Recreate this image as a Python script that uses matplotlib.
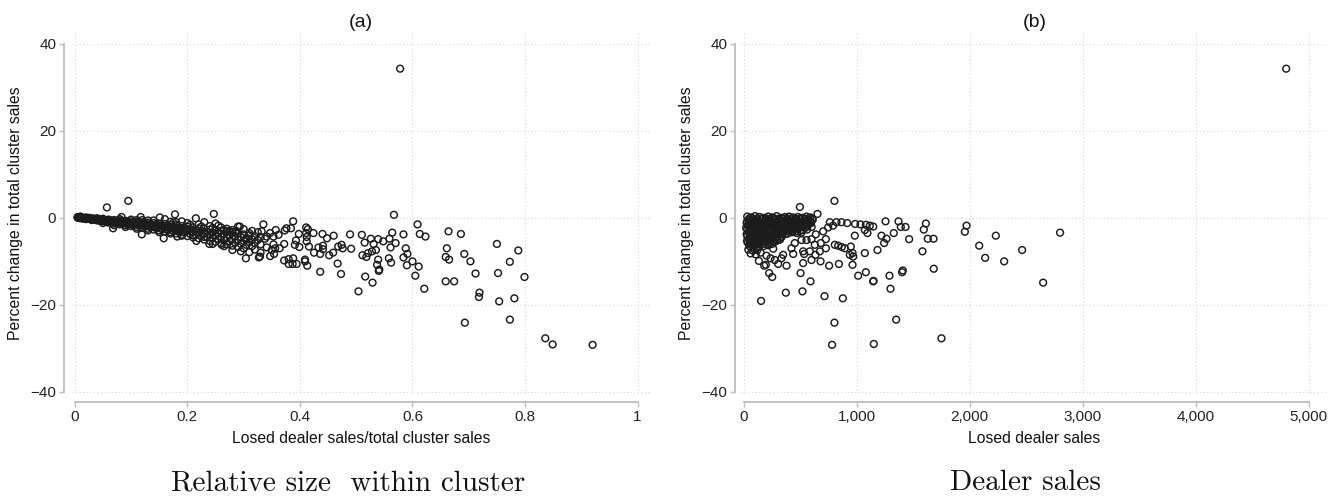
import matplotlib
matplotlib.use("Agg")
import matplotlib.pyplot as plt

# ---------------- data: panel (a) ----------------
a_band = [
    (0.005, 0.2), (0.005, 0.0), (0.010, 0.1), (0.010, -0.1), (0.010, 0.3), (0.015, 0.0), (0.015, -0.2),
    (0.020, -0.1), (0.020, 0.1), (0.020, -0.3), (0.025, -0.2), (0.025, 0.0), (0.030, -0.3), (0.030, -0.1),
    (0.030, -0.5), (0.035, -0.2), (0.035, -0.4), (0.040, -0.3), (0.040, -0.6), (0.040, -0.1), (0.045, -0.4),
    (0.045, -0.7), (0.050, -0.5), (0.050, -0.2), (0.050, -0.8), (0.055, -0.6), (0.055, -0.9), (0.060, -0.4),
    (0.060, -0.8), (0.060, -1.1), (0.065, -0.6), (0.065, -1.0), (0.070, -0.5), (0.070, -0.9), (0.070, -1.3),
    (0.075, -0.7), (0.075, -1.2), (0.080, -0.6), (0.080, -1.0), (0.080, -1.5), (0.085, -0.8), (0.085, -1.3),
    (0.090, -0.7), (0.090, -1.1), (0.090, -1.7), (0.095, -0.9), (0.095, -1.5), (0.100, -0.8), (0.100, -1.3),
    (0.100, -1.9), (0.100, -0.4), (0.105, -1.0), (0.105, -1.6), (0.110, -0.9), (0.110, -1.4), (0.110, -2.1),
    (0.115, -1.1), (0.115, -1.8), (0.120, -1.0), (0.120, -1.6), (0.120, -2.3), (0.120, -0.5), (0.125, -1.2),
    (0.125, -2.0), (0.130, -1.1), (0.130, -1.7), (0.130, -2.5), (0.135, -1.4), (0.135, -2.2), (0.140, -1.2),
    (0.140, -1.9), (0.140, -2.7), (0.140, -0.6), (0.145, -1.5), (0.145, -2.4), (0.150, -1.3), (0.150, -2.0),
    (0.150, -2.9), (0.155, -1.7), (0.155, -2.6), (0.160, -1.4), (0.160, -2.2), (0.160, -3.1), (0.160, -0.3),
    (0.165, -1.8), (0.165, -2.8), (0.170, -1.6), (0.170, -2.4), (0.170, -3.3), (0.175, -2.0), (0.175, -3.0),
    (0.175, -1.1), (0.180, -1.7), (0.180, -2.6), (0.180, -3.6), (0.185, -2.2), (0.185, -3.2), (0.190, -1.9),
    (0.190, -2.8), (0.190, -3.9), (0.190, -0.8), (0.195, -2.4), (0.195, -3.4), (0.200, -2.0), (0.200, -3.0),
    (0.200, -4.2), (0.200, -1.2), (0.205, -2.6), (0.205, -3.7), (0.210, -2.2), (0.210, -3.2), (0.210, -4.5),
    (0.215, -2.8), (0.215, -3.9), (0.215, -0.1), (0.220, -2.4), (0.220, -3.4), (0.220, -4.7), (0.220, -1.5),
    (0.225, -3.0), (0.225, -4.1), (0.230, -2.5), (0.230, -3.6), (0.230, -5.0), (0.230, -1.0), (0.235, -3.2),
    (0.235, -4.4), (0.240, -2.7), (0.240, -3.8), (0.240, -5.3), (0.240, -1.9), (0.245, -3.4), (0.245, -4.6),
    (0.245, -6.0), (0.250, -2.9), (0.250, -4.0), (0.250, -5.5), (0.250, -1.3), (0.255, -3.6), (0.255, -4.9),
    (0.260, -3.0), (0.260, -4.3), (0.260, -5.8), (0.260, -2.2), (0.265, -3.8), (0.265, -5.1), (0.265, -6.5),
    (0.270, -3.2), (0.270, -4.5), (0.270, -6.1), (0.270, -2.5), (0.275, -4.0), (0.275, -5.4), (0.280, -3.4),
    (0.280, -4.8), (0.280, -6.4), (0.280, -2.8), (0.280, -7.4), (0.285, -4.2), (0.285, -5.7), (0.290, -3.6),
    (0.290, -5.0), (0.290, -6.7), (0.290, -2.0), (0.295, -4.4), (0.295, -6.0), (0.295, -7.7), (0.300, -3.8),
    (0.300, -5.3), (0.300, -7.0), (0.300, -2.6), (0.305, -4.6), (0.305, -6.2), (0.310, -4.0), (0.310, -5.6),
    (0.310, -7.9), (0.315, -3.0), (0.315, -4.9), (0.315, -6.5), (0.320, -4.2), (0.320, -5.8), (0.320, -7.3),
    (0.325, -3.3), (0.325, -5.1), (0.330, -4.4), (0.330, -6.1), (0.330, -8.0),
]

a_band2 = [
    (0.0075, 0.1), (0.0125, 0.0), (0.0175, -0.1), (0.0225, -0.2), (0.0275, -0.3), (0.0325, -0.2),
    (0.0375, -0.5), (0.0425, -0.4), (0.0475, -0.6), (0.0525, -0.7), (0.0575, -0.5), (0.0625, -0.9),
    (0.0675, -0.8), (0.0725, -1.1), (0.0775, -0.9), (0.0825, -1.2), (0.0875, -1.0), (0.0925, -1.4),
    (0.0975, -1.2), (0.1025, -1.6), (0.1075, -1.3), (0.1125, -1.7), (0.1175, -1.4), (0.1225, -1.9),
    (0.1275, -1.6), (0.1325, -2.0), (0.1375, -1.7), (0.1425, -2.2), (0.1475, -1.9), (0.1525, -2.4),
    (0.1575, -2.0), (0.1625, -2.6), (0.1675, -2.2), (0.1725, -2.8), (0.1775, -2.4), (0.1825, -3.0),
    (0.1875, -2.6), (0.1925, -3.2), (0.1975, -2.8), (0.050, -1.2), (0.070, -1.7), (0.090, -2.1),
    (0.110, -2.5), (0.130, -2.9), (0.150, -3.3), (0.170, -3.6), (0.190, -4.1), (0.210, -4.0),
    (0.230, -4.4), (0.080, -0.3), (0.110, -0.5), (0.130, -0.6), (0.170, -0.9), (0.180, -1.0),
    (0.205, -1.6), (0.225, -2.0), (0.245, -2.3), (0.265, -2.8), (0.285, -3.2), (0.310, -3.5),
    (0.255, -1.8), (0.275, -3.0), (0.305, -5.0),
]

a_scatter = [
    (0.578, 34.3), (0.057, 2.4), (0.095, 3.9), (0.178, 0.8), (0.247, 0.9), (0.151, 0.1), (0.117, 0.2),
    (0.083, 0.2), (0.304, -9.3), (0.327, -9.1), (0.261, -6.2), (0.239, -6.0), (0.216, -5.3), (0.158, -4.7),
    (0.119, -3.8), (0.068, -2.4), (0.182, -4.3), (0.287, -3.0), (0.293, -2.0),
    (0.664, -3.1), (0.686, -3.7), (0.750, -6.0), (0.788, -7.5), (0.661, -7.0), (0.659, -9.0), (0.665, -9.6),
    (0.692, -8.3), (0.703, -10.0), (0.773, -10.1), (0.712, -12.8), (0.752, -12.7), (0.799, -13.6),
    (0.659, -14.6), (0.674, -14.6), (0.719, -17.2), (0.718, -18.2), (0.754, -19.2), (0.781, -18.5),
    (0.693, -24.1), (0.773, -23.4), (0.836, -27.7), (0.849, -29.1), (0.920, -29.2),
    (0.567, 0.7), (0.609, -1.5), (0.613, -3.7), (0.623, -4.3), (0.584, -3.8), (0.564, -3.4), (0.570, -5.8),
    (0.559, -4.8), (0.548, -5.4), (0.539, -4.9), (0.526, -4.8), (0.510, -3.9), (0.489, -3.8), (0.460, -4.1),
    (0.448, -4.7), (0.440, -3.7), (0.424, -3.5), (0.515, -5.7), (0.531, -6.0), (0.561, -6.8), (0.535, -7.4),
    (0.528, -7.7), (0.521, -8.1), (0.511, -8.6), (0.518, -9.0), (0.539, -9.6), (0.558, -9.3), (0.562, -10.3),
    (0.537, -10.8), (0.541, -11.9), (0.540, -12.2), (0.584, -9.1), (0.588, -7.0), (0.591, -8.3), (0.600, -10.0),
    (0.590, -10.9), (0.611, -11.2), (0.605, -13.3), (0.621, -16.3), (0.504, -16.9), (0.529, -14.9),
    (0.516, -13.5), (0.473, -12.9), (0.436, -12.4), (0.467, -10.5), (0.491, -7.1), (0.476, -7.0),
    (0.474, -6.2), (0.468, -6.6), (0.459, -8.0), (0.452, -8.6), (0.441, -6.4), (0.441, -7.2), (0.433, -6.8),
    (0.436, -8.3), (0.425, -8.0), (0.416, -6.6), (0.412, -5.4), (0.413, -11.0), (0.409, -10.0), (0.409, -9.6),
    (0.394, -10.6), (0.387, -10.6), (0.380, -10.6), (0.388, -9.3), (0.380, -9.5), (0.372, -9.8), (0.399, -6.7),
    (0.391, -6.2), (0.393, -5.2), (0.398, -3.7), (0.411, -3.5), (0.412, -4.4), (0.411, -2.2), (0.414, -2.6),
    (0.388, -0.8), (0.384, -2.4), (0.376, -2.4), (0.373, -2.9), (0.372, -6.0), (0.364, -7.0), (0.356, -7.0),
    (0.354, -8.3), (0.347, -8.8), (0.350, -7.4), (0.353, -6.1), (0.341, -6.8), (0.329, -8.9), (0.335, -1.5),
    (0.357, -2.8), (0.362, -3.9), (0.347, -3.5), (0.341, -4.3), (0.332, -3.1), (0.353, -4.3), (0.338, -4.8),
]

# ---------------- data: panel (b) ----------------
b_block = [
    (30, 0.3), (65, 0.1), (100, 0.4), (140, 0.2), (175, 0.0), (215, 0.3), (250, 0.1), (290, 0.4), (330, 0.0),
    (365, 0.2), (400, 0.3), (440, 0.1), (480, 0.2), (520, 0.0), (555, 0.3), (590, 0.1),
    (45, -0.5), (80, -0.4), (120, -0.6), (155, -0.3), (195, -0.5), (235, -0.6), (270, -0.4), (310, -0.5),
    (345, -0.7), (385, -0.4), (420, -0.6), (460, -0.5), (500, -0.3), (540, -0.6), (575, -0.5), (610, -0.4),
    (25, -1.2), (60, -1.1), (95, -1.3), (135, -1.2), (170, -1.0), (210, -1.3), (245, -1.2), (285, -1.1),
    (325, -1.4), (360, -1.2), (395, -1.0), (435, -1.3), (470, -1.2), (510, -1.1), (550, -1.3), (595, -1.2),
    (40, -1.9), (75, -2.0), (115, -1.8), (150, -2.1), (190, -1.9), (225, -1.8), (265, -2.0), (300, -2.1),
    (340, -1.9), (380, -1.8), (415, -2.0), (455, -2.1), (490, -1.9), (530, -2.0), (565, -1.8), (600, -2.1),
    (30, -2.6), (65, -2.8), (105, -2.7), (140, -2.5), (180, -2.8), (215, -2.7), (255, -2.6), (290, -2.9),
    (330, -2.7), (370, -2.6), (405, -2.8), (445, -2.7), (480, -2.5), (520, -2.8), (560, -2.7),
    (45, -3.4), (85, -3.5), (120, -3.3), (160, -3.5), (200, -3.4), (235, -3.6), (275, -3.3), (310, -3.5),
    (350, -3.4), (390, -3.6), (430, -3.3), (470, -3.5), (510, -3.4),
    (30, -4.2), (70, -4.1), (105, -4.3), (145, -4.2), (185, -4.0), (220, -4.3), (260, -4.1), (300, -4.2),
    (335, -4.4),
    (45, -4.9), (85, -5.0), (125, -4.8), (165, -5.0), (200, -4.9), (240, -5.1), (280, -4.8), (320, -5.0),
    (35, -5.7), (70, -5.6), (110, -5.8), (150, -5.7), (190, -5.5), (230, -5.8), (270, -5.6),
    (50, -6.5), (95, -6.4), (135, -6.6), (175, -6.5), (215, -6.3),
    (40, -7.3), (80, -7.5), (120, -7.4), (60, -8.2), (105, -8.4),
]

b_block2 = [
    (48, -0.1), (83, -0.2), (120, -0.1), (158, -0.2), (195, -0.1), (232, -0.2), (270, -0.1), (310, -0.2),
    (348, -0.1), (383, -0.2), (420, -0.1), (460, -0.2), (500, -0.1), (538, -0.2), (572, -0.1), (605, -0.2),
    (28, -0.8), (62, -0.9), (100, -0.8), (138, -0.9), (175, -0.8), (215, -0.9), (252, -0.8), (290, -0.9),
    (328, -0.8), (365, -0.9), (402, -0.8), (440, -0.9), (480, -0.8), (520, -0.9), (558, -0.8), (592, -0.9),
    (42, -1.5), (78, -1.6), (115, -1.5), (152, -1.6), (190, -1.5), (228, -1.6), (265, -1.5), (305, -1.6),
    (342, -1.5), (378, -1.6), (418, -1.5), (452, -1.6), (490, -1.5), (528, -1.6), (570, -1.5),
    (20, -2.3), (55, -2.2), (90, -2.3), (125, -2.2), (163, -2.3), (200, -2.2), (240, -2.3), (275, -2.2),
    (315, -2.3), (352, -2.2), (390, -2.3), (428, -2.2), (465, -2.3), (505, -2.2), (545, -2.3),
    (48, -3.0), (85, -3.1), (122, -3.0), (160, -3.1), (198, -3.0), (235, -3.1), (272, -3.0), (312, -3.1),
    (350, -3.0), (388, -3.1), (425, -3.0), (462, -3.1), (498, -3.0),
    (25, -3.8), (62, -3.7), (100, -3.8), (140, -3.7), (178, -3.8), (218, -3.7), (255, -3.8), (292, -3.7),
    (330, -3.8), (370, -3.7),
    (50, -4.5), (88, -4.6), (125, -4.5), (165, -4.6), (205, -4.5), (242, -4.6), (282, -4.5), (318, -4.6),
    (28, -5.3), (65, -5.2), (105, -5.3), (145, -5.2), (182, -5.3), (220, -5.2), (260, -5.3), (298, -5.2),
    (52, -6.1), (90, -6.0), (130, -6.1), (170, -6.0), (210, -6.1), (250, -6.0),
]

b_scatter = [
    (4800, 34.3), (802, 3.9), (496, 2.5), (652, 0.9), (761, -1.0), (820, -1.0), (864, -1.0), (915, -1.2),
    (985, -1.4), (1032, -1.5), (1080, -1.6), (1115, -1.8), (1145, -2.0), (1254, -0.8), (1369, -0.8),
    (1389, -2.1), (1431, -2.1), (1327, -3.5), (1463, -4.9), (982, -4.1), (1218, -4.1), (1242, -5.8),
    (1263, -4.8), (1071, -2.8), (1094, -3.5), (1071, -8.1), (1183, -7.4), (962, -8.1), (938, -8.5),
    (947, -6.6), (968, -8.9), (962, -10.8), (841, -10.6), (755, -11.0), (679, -10.0), (1012, -13.3),
    (1080, -12.5), (1148, -14.5), (1289, -13.3), (1298, -16.3), (1401, -12.5), (1407, -12.1), (590, -14.6),
    (502, -12.7), (519, -16.9), (372, -17.2), (251, -13.6), (224, -12.7), (153, -19.1), (714, -18.0),
    (876, -18.5), (835, -6.4), (805, -6.2), (867, -6.7), (894, -7.0), (726, -7.0), (726, -4.9), (681, -5.8),
    (628, -6.2), (637, -3.8), (702, -3.1), (746, -2.2), (790, -1.8), (525, -7.7), (534, -8.3), (525, -10.4),
    (599, -9.7), (634, -8.5), (584, -7.7), (673, -7.7), (437, -8.3), (422, -7.0), (451, -5.8), (555, -5.1),
    (599, -4.9), (511, -5.1), (378, -11.0), (304, -10.6), (274, -9.7), (333, -9.3), (236, -9.3), (195, -10.8),
    (180, -11.0), (133, -9.9), (201, -8.7), (148, -8.0), (260, -7.1), (348, -8.5), (112, -7.0), (53, -5.8),
    (1611, -1.3), (1593, -2.7), (1628, -4.8), (1679, -4.8), (1581, -7.7), (1681, -11.7), (1749, -27.7),
    (1971, -1.8), (1956, -3.2), (2230, -4.1), (2083, -6.4), (2136, -9.2), (2304, -10.0), (2463, -7.4),
    (2799, -3.4), (2649, -14.9), (802, -24.1), (1348, -23.4), (781, -29.2), (1150, -29.0), (1145, -14.6),
]

a_xticks = [0, 0.2, 0.4, 0.6, 0.8, 1]
a_xticklabels = ["0", "0.2", "0.4", "0.6", "0.8", "1"]
b_xticks = [0, 1000, 2000, 3000, 4000, 5000]
b_xticklabels = ["0", "1,000", "2,000", "3,000", "4,000", "5,000"]
yticks = [-40, -20, 0, 20, 40]
yticklabels = ["\u221240", "\u221220", "0", "20", "40"]

titles = ["(a)", "(b)"]
xlabels = ["Losed dealer sales/total cluster sales", "Losed dealer sales"]
ylabel = "Percent change in total cluster sales"
captions = ["Relative size  within cluster", "Dealer sales"]

# ---------------- drawing ----------------
FONT = ["Liberation Sans Narrow", "Liberation Sans", "DejaVu Sans"]
plt.rcParams["font.family"] = FONT

W, H = 1336, 498
fig = plt.figure(figsize=(W / 100, H / 100), dpi=100)

spine_col = "#bdbdbd"
grid_col = "#d6d6d6"
mk_col = "#1c1c1c"


def px2pt(p):
    return p * 72 / 100


panels = [
    dict(pos=(72, 650), xlim=(-0.005, 1.022), pts_list=[a_band, a_band2, a_scatter], xt=a_xticks,
         xtl=a_xticklabels, xbounds=(0, 1), off=8, cap_x=348, cap_fs=21),
    dict(pos=(741, 1328), xlim=(-25, 5170), pts_list=[b_block, b_block2, b_scatter], xt=b_xticks,
         xtl=b_xticklabels, xbounds=(0, 5000), off=6, cap_x=1025, cap_fs=21),
]

top_px, bot_px = 33, 394
for i, p in enumerate(panels):
    l, r = p["pos"]
    ax = fig.add_axes([l / W, 1 - bot_px / H, (r - l) / W, (bot_px - top_px) / H])
    ax.set_xlim(*p["xlim"])
    ax.set_ylim(-40.5, 42.5)
    for pts in p["pts_list"]:
        xs = [q[0] for q in pts]
        ys = [q[1] for q in pts]
        ax.scatter(xs, ys, s=24, facecolors="none", edgecolors=mk_col, linewidths=1.05, zorder=3)
    ax.set_xticks(p["xt"])
    ax.set_xticklabels(p["xtl"])
    ax.set_yticks(yticks)
    ax.set_yticklabels(yticklabels)
    ax.grid(True, linestyle=(0, (1, 2.2)), color=grid_col, linewidth=0.8, zorder=0)
    for s in ["top", "right"]:
        ax.spines[s].set_visible(False)
    ax.spines["left"].set_position(("outward", px2pt(p["off"])))
    ax.spines["bottom"].set_position(("outward", px2pt(8)))
    ax.spines["left"].set_bounds(-40, 40)
    ax.spines["bottom"].set_bounds(*p["xbounds"])
    for s in ["left", "bottom"]:
        ax.spines[s].set_color(spine_col)
        ax.spines[s].set_linewidth(1.3)
    ax.tick_params(axis="both", direction="out", length=px2pt(5), width=1.0, color=spine_col,
                   labelsize=11, labelcolor="#222222", pad=2)
    ax.set_title(titles[i], fontsize=14, pad=4, color="#111111")
    ax.set_xlabel(xlabels[i], fontsize=11.3, labelpad=5, color="#111111")
    ax.set_ylabel(ylabel, fontsize=11.3, labelpad=5, color="#111111")
    fig.text(p["cap_x"] / W, 1 - 483 / H, captions[i], fontfamily="cmr10", fontsize=p["cap_fs"],
             ha="center", va="center", color="#111111")

fig.savefig("out.png", dpi=100)
